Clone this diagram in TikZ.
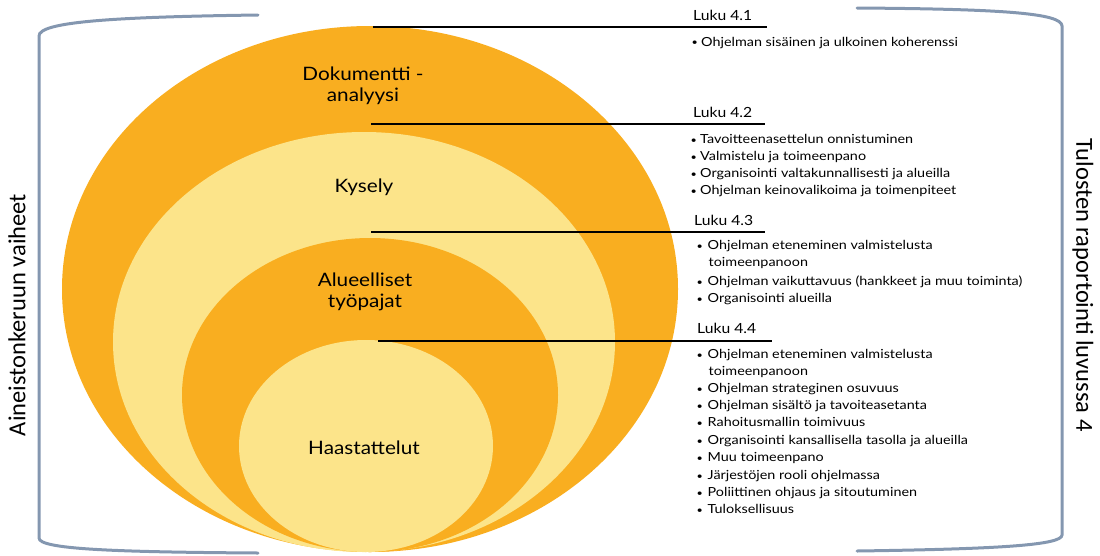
\documentclass[tikz,border=0pt]{standalone}
\usepackage{fontspec}
\setmainfont{Lato}[FakeStretch=1.12]
\newfontfamily\itmfont{Lato}[FakeStretch=1.15]
\newfontfamily\calib{Carlito}
\usetikzlibrary{shapes.geometric}
\definecolor{orng}{HTML}{F9AE20}
\definecolor{lite}{HTML}{FCE48A}
\definecolor{brk}{HTML}{8497B0}
\begin{document}
\begin{tikzpicture}[x=1pt,y=-1pt,
  ring/.style={ellipse, draw=none, inner sep=0pt},
  ttl/.style={font=\fontsize{18.5}{21}\selectfont, align=center, inner sep=0pt},
  lbl/.style={font=\fontsize{14}{16}\selectfont, anchor=base west, inner sep=0pt},
  itm/.style={font=\itmfont\fontsize{12.5}{14}\selectfont, anchor=base west, inner sep=0pt},
  rule/.style={line width=1.8pt, black},
  brkt/.style={line width=3pt, brk, line cap=round},
  vtxt/.style={font=\calib\fontsize{24.5}{28}\selectfont, inner sep=0pt}]
\useasboundingbox (0,0) rectangle (1100,555);
\newcommand{\bul}{\makebox[9.5pt][l]{\raisebox{0.5pt}{\scalebox{0.75}{•}}}}
\newcommand{\bulw}{\makebox[11pt][l]{\raisebox{0.5pt}{\scalebox{0.75}{•}}}}
% brackets
\draw[brkt] (258,15) .. controls (110,17) and (39,22) .. (39,36) -- (39,538) .. controls (39,549) and (110,552) .. (258,553);
\draw[brkt] (857,8) .. controls (1000,9) and (1062,13) .. (1062,26) -- (1062,535) .. controls (1062,545) and (1000,549) .. (857,551);
% ellipses
\node[ring, fill=orng, minimum width=616pt, minimum height=526pt] (e1) at (370,289) {};
\node[ring, fill=lite, minimum width=502pt, minimum height=420pt] (e2) at (364,342) {};
\node[ring, fill=orng, minimum width=376pt, minimum height=314pt] (e3) at (370,395) {};
\node[ring, fill=lite, minimum width=254pt, minimum height=212pt] (e4) at (366,446) {};
% titles
\node[ttl] (t1) at (363,86) {Dokumentti -\\analyysi};
\node[ttl] (t2) at (364,187) {Kysely};
\node[ttl] (t3) at (365,292) {Alueelliset\\työpajat};
\node[ttl] (t4) at (364,448) {Haastattelut};
% vertical texts
\node[vtxt, rotate=90] (v1) at (17,315) {Aineistonkeruun vaiheet};
\node[vtxt, rotate=-90] (v2) at (1083,285) {Tulosten raportointi luvussa 4};
% labels
\node[lbl] (L1) at (693,20) {Luku 4.1};
\node[lbl] (L2) at (693,117) {Luku 4.2};
\node[lbl] (L3) at (694,225) {Luku 4.3};
\node[lbl] (L4) at (697,333) {Luku 4.4};
% rules
\coordinate (s1) at (373,27); \coordinate (f1) at (767,27);
\coordinate (s2) at (371,124); \coordinate (f2) at (765,124);
\coordinate (s3) at (371,232); \coordinate (f3) at (765,232);
\coordinate (s4) at (378,341); \coordinate (f4) at (772,341);
\draw[rule] (s1) -- (f1);
\draw[rule] (s2) -- (f2);
\draw[rule] (s3) -- (f3);
\draw[rule] (s4) -- (f4);
% items 4.1
\node[itm] (a1) at (691.5,46) {\bul Ohjelman sisäinen ja ulkoinen koherenssi};
% items 4.2
\node[itm] (b1) at (690.5,143.5) {\bul Tavoitteenasettelun onnistuminen};
\node[itm] (b2) at (690.5,160.5) {\bul Valmistelu ja toimeenpano};
\node[itm] (b3) at (690.5,177.5) {\bul Organisointi valtakunnallisesti ja alueilla};
\node[itm] (b4) at (690.5,194.5) {\bul Ohjelman keinovalikoima ja toimenpiteet};
% items 4.3
\node[itm] (c1) at (696.5,249.5) {\bulw Ohjelman eteneminen valmistelusta};
\node[itm] (c1b) at (708.5,266.5) {toimeenpanoon};
\node[itm] (c2) at (696.5,285.5) {\bulw Ohjelman vaikuttavuus (hankkeet ja muu toiminta)};
\node[itm] (c3) at (696.5,302.5) {\bulw Organisointi alueilla};
% items 4.4
\node[itm] (d1) at (696.5,358.5) {\bulw Ohjelman eteneminen valmistelusta};
\node[itm] (d1b) at (708.5,375.5) {toimeenpanoon};
\node[itm] (d2) at (696.5,392.5) {\bulw Ohjelman strateginen osuvuus};
\node[itm] (d3) at (696.5,409.5) {\bulw Ohjelman sisältö ja tavoiteasetanta};
\node[itm] (d4) at (696.5,426.5) {\bulw Rahoitusmallin toimivuus};
\node[itm] (d5) at (696.5,444.5) {\bulw Organisointi kansallisella tasolla ja alueilla};
\node[itm] (d6) at (696.5,461.5) {\bulw Muu toimeenpano};
\node[itm] (d7) at (696.5,479.5) {\bulw Järjestöjen rooli ohjelmassa};
\node[itm] (d8) at (696.5,496.5) {\bulw Poliittinen ohjaus ja sitoutuminen};
\node[itm] (d9) at (696.5,513.5) {\bulw Tuloksellisuus};
\end{tikzpicture}
\end{document}
